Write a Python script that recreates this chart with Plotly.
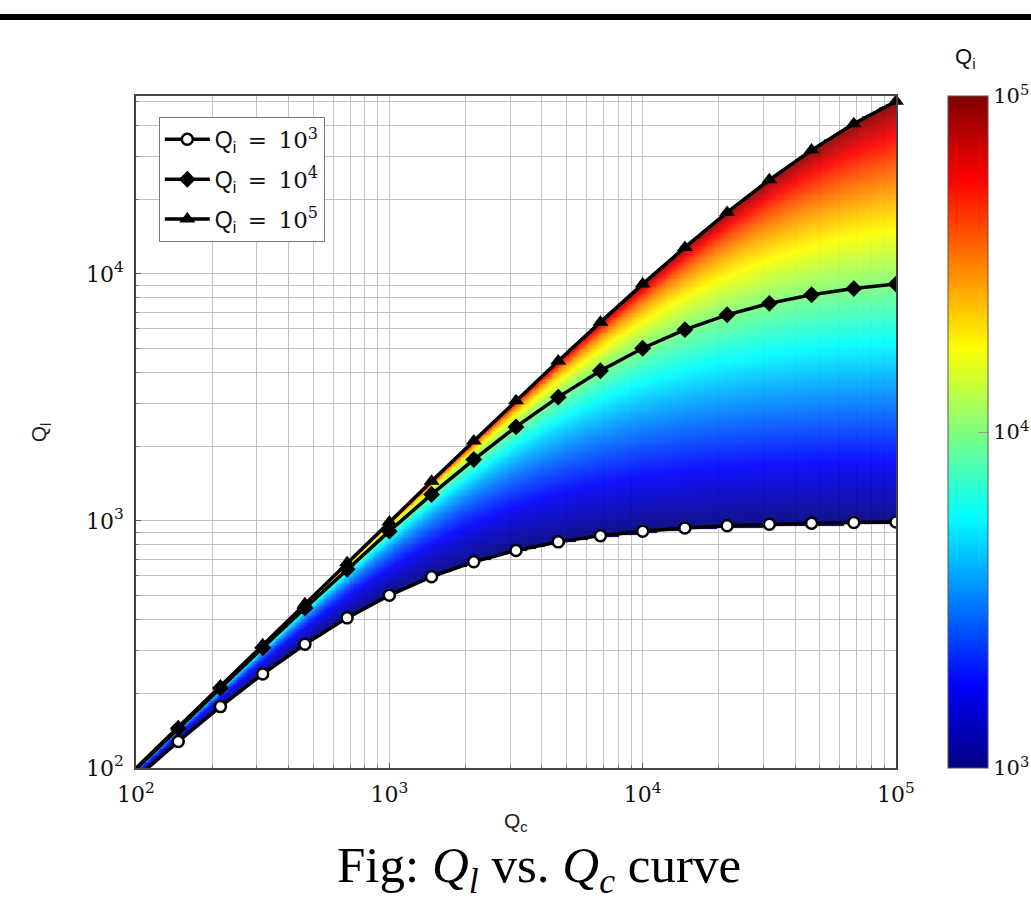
import numpy as np
import plotly.graph_objects as go

# ---- data ----
qc = [100, 146.8, 215.4, 316.2, 464.2, 681.3, 1000, 1468, 2154, 3162, 4642, 6813,
      10000, 14678, 21544, 31623, 46416, 68129, 100000]
ql_qi_1e3 = [90.9, 128.0, 177.2, 240.2, 317.0, 405.2, 500.0, 594.8, 683.0, 759.8, 822.8,
             872.0, 909.1, 936.2, 955.6, 969.3, 978.9, 986.5, 990.1]
ql_qi_1e4 = [99.0, 144.7, 210.9, 306.5, 443.6, 637.8, 909.1, 1280.1, 1772.1, 2402.6, 3170.5,
             4052.4, 5000.0, 5947.8, 6829.6, 7597.4, 8228.1, 8720.1, 9090.9]
ql_qi_1e5 = [99.9, 146.6, 214.9, 315.2, 462.1, 676.7, 990.1, 1446.8, 2108.6, 3065.1, 4436.1,
             6378.5, 9090.9, 12799, 17725, 24025, 31701, 40519, 50000]
legend_names = ["Q<sub>i</sub><span style='font-family:DejaVu Serif'>\u2002=\u200210<sup>3</sup></span>",
                "Q<sub>i</sub><span style='font-family:DejaVu Serif'>\u2002=\u200210<sup>4</sup></span>",
                "Q<sub>i</sub><span style='font-family:DejaVu Serif'>\u2002=\u200210<sup>5</sup></span>"]
tick_vals = [100, 1000, 10000, 100000]
tick_text = ["10<sup>2</sup>", "10<sup>3</sup>", "10<sup>4</sup>", "10<sup>5</sup>"]
cbar_vals = [3, 4, 5]
cbar_text = ["10<sup>3</sup>", "10<sup>4</sup>", "10<sup>5</sup>"]
qi_min, qi_max = 1e3, 1e5

# ---- colour field: intrinsic Q (Qi) for each (Qc, Ql) position ----
gx = np.linspace(2, 5, 420)
gy = np.linspace(2, 4.72, 380)
QC, QL = np.meshgrid(10 ** gx, 10 ** gy)
inv = 1.0 / QL - 1.0 / QC
with np.errstate(divide="ignore", invalid="ignore"):
    z = np.log10(1.0 / inv)
z[(inv <= 0) | (z < np.log10(qi_min) - 0.01) | (z > np.log10(qi_max) + 0.01)] = np.nan
z = np.clip(z, 3, 5)
z = np.round(z, 3)

jet = [[0, "#00007f"], [0.125, "#0000ff"], [0.375, "#00ffff"], [0.625, "#ffff00"],
       [0.875, "#ff0000"], [1, "#7f0000"]]

fig = go.Figure()
fig.add_trace(go.Heatmap(
    x=10 ** gx, y=10 ** gy, z=z, zmin=3, zmax=5, colorscale=jet, opacity=0.93,
    hoverinfo="skip", showlegend=False,
    colorbar=dict(
        x=1.068, xanchor="left", xpad=0, y=0.5, yanchor="middle", len=1.0, lenmode="fraction",
        ypad=0, thickness=40, outlinewidth=1, outlinecolor="#555555",
        tickvals=cbar_vals, ticktext=cbar_text, ticks="inside", ticklen=10, tickcolor="#999999",
        tickfont=dict(family="DejaVu Serif", size=21, color="#111111"),
    ),
))

styles = [
    (ql_qi_1e3, dict(symbol="circle", size=11, line=dict(width=2.5, color="black"), color="white"), True),
    (ql_qi_1e4, dict(symbol="diamond", size=13, color="black"), True),
    (ql_qi_1e5, dict(symbol="triangle-up", size=14, color="black"), False),
]
for i, ((ys, mk, clip), name) in enumerate(zip(styles, legend_names)):
    fig.add_trace(go.Scatter(x=qc, y=ys, mode="lines+markers", name=name, legendgroup=f"g{i}",
                             cliponaxis=clip,
                             line=dict(color="black", width=3.5), marker=mk))

grid_c = "#c4c4c4"
axis_common = dict(
    type="log", showline=True, mirror=True, linecolor="#444444", linewidth=1.5,
    showgrid=True, gridcolor=grid_c, gridwidth=1, zeroline=False,
    ticks="inside", ticklen=5, tickcolor="#555555", ticklabelstandoff=6,
    tickvals=tick_vals, ticktext=tick_text,
    tickfont=dict(family="DejaVu Serif", size=22, color="#111111"),
    minor=dict(showgrid=True, gridcolor=grid_c, gridwidth=1, ticks="inside", ticklen=3,
               tickcolor="#777777", dtick="D1"),
)
fig.update_xaxes(range=[2, 5], **axis_common)
fig.update_yaxes(range=[2, 4.72], **axis_common)

fig.update_layout(
    width=1031, height=900,
    margin=dict(l=136, r=135, t=96, b=132, autoexpand=False),
    paper_bgcolor="white", plot_bgcolor="white",
    showlegend=True,
    legend=dict(x=0.03, y=0.969, xanchor="left", yanchor="top", bgcolor="white",
                bordercolor="#777777", borderwidth=1, itemwidth=45,
                font=dict(family="Liberation Sans", size=23, color="#111111"),
                tracegroupgap=7),
    font=dict(family="Liberation Sans"),
    shapes=[dict(type="line", xref="paper", yref="paper", x0=-0.2, x1=1.2,
                 y0=1.1176, y1=1.1176, line=dict(color="black", width=6))],
    annotations=[
        dict(text="Q<sub>i</sub>", xref="paper", yref="paper", x=1.091, y=1.0565,
             xanchor="center", yanchor="middle",
             showarrow=False, font=dict(family="Liberation Sans", size=22, color="#111111")),
        dict(text="Q<sub>c</sub>", xref="paper", yref="paper", x=0.5, y=-0.081,
             xanchor="center", yanchor="middle",
             showarrow=False, font=dict(family="Liberation Sans", size=21, color="#222222")),
        dict(text="Q<sub>l</sub>", xref="paper", yref="paper", x=-0.126, y=0.5, textangle=-90,
             xanchor="center", yanchor="middle",
             showarrow=False, font=dict(family="Liberation Sans", size=21, color="#222222")),
        dict(text="Fig: <i>Q<sub>l</sub></i> vs. <i>Q<sub>c</sub></i> curve", xref="paper", yref="paper",
             x=0.53, y=-0.150, xanchor="center", yanchor="middle", showarrow=False,
             font=dict(family="Liberation Serif", size=51, color="black")),
    ],
)

fig.write_html("out.html", config={"displayModeBar": False},
               post_script="document.body.style.margin='0';")
